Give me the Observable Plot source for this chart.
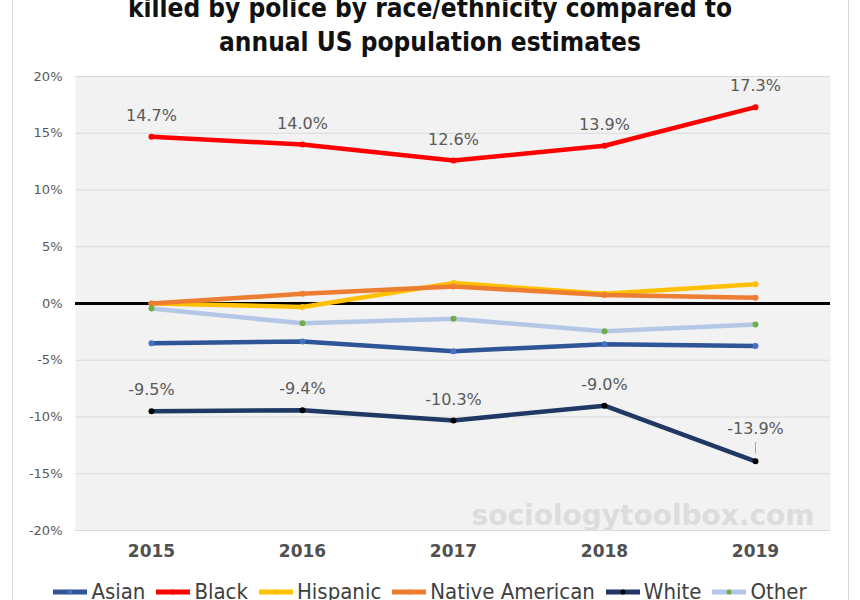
<!DOCTYPE html>
<html><head><meta charset="utf-8">
<script src="https://cdn.jsdelivr.net/npm/d3@7"></script>
<script src="https://cdn.jsdelivr.net/npm/@observablehq/plot@0.6"></script>
<style>
html,body{margin:0;padding:0;background:#fff;width:860px;height:600px;overflow:hidden;position:relative;}
#card{position:absolute;left:12px;top:-5px;width:835px;height:620px;border-left:1px solid #d9d9d9;border-right:1px solid #d9d9d9;}
#title{position:absolute;left:0;top:-9px;width:860px;text-align:center;font-family:"Liberation Sans Narrow","DejaVu Sans Condensed",sans-serif;font-weight:bold;font-size:26px;line-height:34px;color:#111;}
#chart{position:absolute;left:0;top:60px;}
#legend{position:absolute;left:0;top:579px;width:860px;display:flex;justify-content:center;gap:11px;font-family:"Liberation Sans Narrow","DejaVu Sans Condensed",sans-serif;font-size:22px;color:#404040;white-space:nowrap;line-height:26px;}
#legend .item{display:flex;align-items:center;}
#legend svg{margin-right:4px;}
</style>
</head><body>
<div id="card"></div>
<div id="title">killed by police by race/ethnicity compared to<br>annual US population estimates</div>
<div id="chart"></div>
<div id="legend"></div>
<script>
const years = ["2015","2016","2017","2018","2019"];
const asian = [-3.5,-3.35,-4.2,-3.6,-3.75];
const black = [14.7,14.0,12.6,13.9,17.3];
const hispanic = [0.0,-0.3,1.8,0.85,1.7];
const nativeAmerican = [0.0,0.85,1.5,0.75,0.5];
const white = [-9.5,-9.4,-10.3,-9.0,-13.9];
const other = [-0.45,-1.75,-1.35,-2.45,-1.85];
const seriesNames = ["Asian","Black","Hispanic","Native American","White","Other"];
const lineColors = ["#2f5597","#ff0000","#ffc000","#ed7d31","#1f3864","#b4c7e7"];
const markerColors = ["#4472c4","#ff0000","#ffc000","#ed7d31","#000000","#70ad47"];
const yTicks = [-20,-15,-10,-5,0,5,10,15,20];
const watermark = "sociologytoolbox.com";

const seriesValues = [asian, black, hispanic, nativeAmerican, white, other];
const rows = [];
seriesNames.forEach((name, i) => {
  years.forEach((yr, j) => rows.push({series: name, year: yr, value: seriesValues[i][j], idx: i}));
});
const blackRows = rows.filter(d => d.series === "Black");
const whiteRows = rows.filter(d => d.series === "White");
const whiteMain = whiteRows.slice(0, 4);
const whiteLast = whiteRows.slice(4);
const pct = v => v.toFixed(1) + "%";

const marks = [
  Plot.frame({fill: "#f2f2f2", stroke: null}),
  Plot.ruleY(yTicks, {stroke: "#d9d9d9", strokeWidth: 1.2}),
  Plot.ruleY([0], {stroke: "#000", strokeWidth: 3}),
  Plot.text([watermark], {frameAnchor: "bottom-right", dx: -16, dy: -6, fontSize: 28, fontWeight: "bold", fill: "#dcdcdc", fontFamily: "DejaVu Sans"})
];
seriesNames.forEach((name, i) => {
  const data = rows.filter(d => d.series === name);
  marks.push(Plot.line(data, {x: "year", y: "value", stroke: lineColors[i], strokeWidth: 4.5, curve: "linear"}));
  marks.push(Plot.dot(data, {x: "year", y: "value", fill: markerColors[i], r: 3, stroke: null}));
});
const labelStyle = {fontSize: 16, fill: "#595959", fontFamily: "DejaVu Sans"};
marks.push(Plot.text(blackRows, {x: "year", y: "value", text: d => pct(d.value), dy: -21, ...labelStyle}));
marks.push(Plot.text(whiteMain, {x: "year", y: "value", text: d => pct(d.value), dy: -21, ...labelStyle}));
marks.push(Plot.text(whiteLast, {x: "year", y: "value", text: d => pct(d.value), dy: -32, ...labelStyle}));
marks.push(Plot.link(whiteLast, {x1: "year", x2: "year", y1: d => d.value + 0.7, y2: d => d.value + 1.7, stroke: "#a6a6a6", strokeWidth: 1}));

const chart = Plot.plot({
  width: 860,
  height: 520,
  marginTop: 16,
  marginBottom: 50,
  marginLeft: 75,
  marginRight: 30,
  style: {background: "transparent", fontFamily: "DejaVu Sans"},
  x: {type: "point", domain: years, padding: 0.5, label: null},
  y: {domain: [-20, 20], label: null},
  marks: [
    ...marks,
    Plot.axisY(yTicks, {tickSize: 0, tickPadding: 13, tickFormat: d => d + "%", fontSize: 13, fill: "#595959", label: null}),
    Plot.axisX(years, {tickSize: 0, tickPadding: 14, fontSize: 17, fontWeight: "bold", fill: "#505050", label: null})
  ]
});
document.getElementById("chart").appendChild(chart);

const legend = document.getElementById("legend");
seriesNames.forEach((name, i) => {
  const item = document.createElement("div");
  item.className = "item";
  item.innerHTML = `<svg width="34" height="10"><line x1="0" y1="5" x2="34" y2="5" stroke="${lineColors[i]}" stroke-width="5"/><circle cx="17" cy="5" r="2.5" fill="${markerColors[i]}"/></svg><span>${name}</span>`;
  legend.appendChild(item);
});
</script>
</body></html>
